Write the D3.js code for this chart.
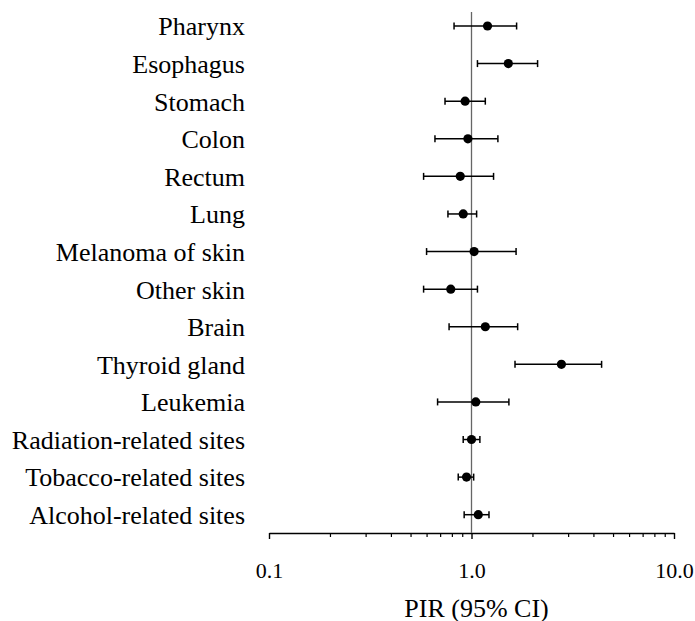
<!DOCTYPE html>
<html>
<head>
<meta charset="utf-8">
<script src="https://cdn.jsdelivr.net/npm/d3@7"></script>
<style>
  body { margin: 0; background: #fff; }
  text { font-family: "Liberation Serif", "Times New Roman", serif; fill: #000; }
</style>
</head>
<body>
<div id="chart"></div>
<script>
// data
const sites = ["Pharynx", "Esophagus", "Stomach", "Colon", "Rectum", "Lung", "Melanoma of skin",
  "Other skin", "Brain", "Thyroid gland", "Leukemia", "Radiation-related sites",
  "Tobacco-related sites", "Alcohol-related sites"]
const pir = [1.20, 1.52, 0.93, 0.96, 0.88, 0.91, 1.03, 0.79, 1.17, 2.78, 1.05, 1.00, 0.945, 1.08]
const lower = [0.82, 1.07, 0.74, 0.66, 0.58, 0.765, 0.60, 0.58, 0.775, 1.64, 0.68, 0.91, 0.86, 0.92]
const upper = [1.67, 2.12, 1.17, 1.35, 1.285, 1.06, 1.66, 1.07, 1.69, 4.39, 1.53, 1.10, 1.025, 1.22]
const tickValues = [0.1, 1, 10]
const tickLabels = ["0.1", "1.0", "10.0"]

const width = 695, height = 621

const svg = d3.select("#chart")
    .append("svg")
    .attr("width", width)
    .attr("height", height)

// log x axis
const x = d3.scaleLog()
    .domain([0.1, 10])
    .range([269, 674])

const y = d3.scalePoint()
    .domain(sites)
    .range([26, 514.7])

const axisY = 533

// minor ticks
const minor = []
for (let d = 0.1; d < 10; d *= 10) {
    for (let k = 2; k <= 9; k++) minor.push(d * k)
}

svg.append("g")
    .attr("transform", "translate(0," + axisY + ")")
    .call(d3.axisBottom(x).tickValues(minor).tickSize(4).tickFormat(""))
    .call(g => g.select(".domain").remove())
    .call(g => g.selectAll("line").attr("stroke", "#000").attr("stroke-width", 1.2))

const ax = svg.append("g")
    .attr("transform", "translate(0," + axisY + ")")
    .call(d3.axisBottom(x).tickValues(tickValues).tickSize(6).tickSizeOuter(0)
        .tickFormat((d, i) => tickLabels[i]))
ax.select(".domain").attr("stroke", "#000").attr("stroke-width", 1.6)
ax.selectAll("line").attr("stroke", "#000").attr("stroke-width", 1.4)
ax.selectAll("text")
    .attr("y", 45)
    .attr("dy", 0)
    .style("font-size", "22px")
    .style("font-family", "Liberation Serif, serif")

// axis title
svg.append("text")
    .attr("x", x(1) + 5)
    .attr("y", 617)
    .attr("text-anchor", "middle")
    .style("font-size", "26px")
    .text("PIR (95% CI)")

// reference line at 1
svg.append("line")
    .attr("x1", x(1)).attr("x2", x(1))
    .attr("y1", 12).attr("y2", axisY)
    .attr("stroke", "#666")
    .attr("stroke-width", 1.3)

// category labels
svg.append("g")
    .selectAll("text")
    .data(sites)
    .enter()
    .append("text")
    .attr("x", 245)
    .attr("y", d => y(d))
    .attr("dy", "0.36em")
    .attr("text-anchor", "end")
    .style("font-size", "26px")
    .text(d => d)

// error bars
const rows = sites.map((s, i) => ({ site: s, pir: pir[i], lo: lower[i], hi: upper[i] }))

const bars = svg.append("g")
    .selectAll("g")
    .data(rows)
    .enter()
    .append("g")

bars.append("line")
    .attr("x1", d => x(d.lo)).attr("x2", d => x(d.hi))
    .attr("y1", d => y(d.site)).attr("y2", d => y(d.site))
    .attr("stroke", "#000").attr("stroke-width", 1.5)

bars.append("line")
    .attr("x1", d => x(d.lo)).attr("x2", d => x(d.lo))
    .attr("y1", d => y(d.site) - 3.5).attr("y2", d => y(d.site) + 3.5)
    .attr("stroke", "#000").attr("stroke-width", 1.5)

bars.append("line")
    .attr("x1", d => x(d.hi)).attr("x2", d => x(d.hi))
    .attr("y1", d => y(d.site) - 3.5).attr("y2", d => y(d.site) + 3.5)
    .attr("stroke", "#000").attr("stroke-width", 1.5)

bars.append("circle")
    .attr("cx", d => x(d.pir))
    .attr("cy", d => y(d.site))
    .attr("r", 4.6)
    .style("fill", "#000")
</script>
</body>
</html>
